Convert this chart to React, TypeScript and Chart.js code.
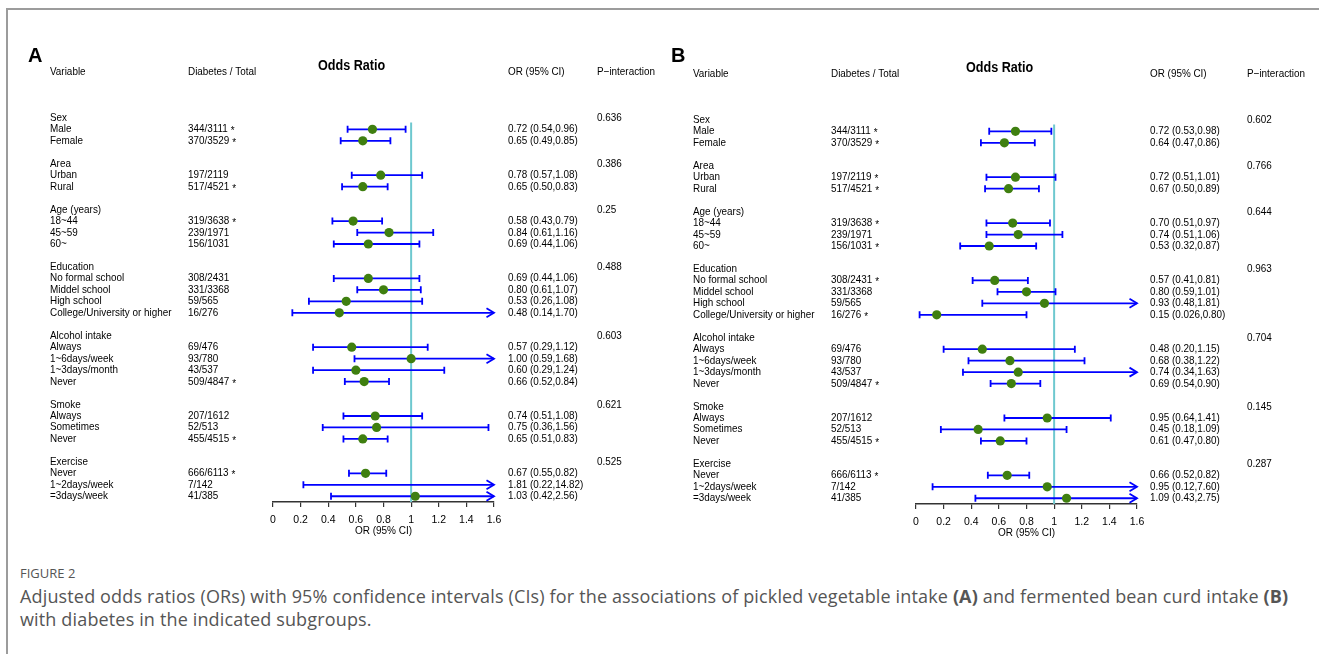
import React, { useEffect, useRef } from "react";
import { Chart, registerables } from "chart.js";
Chart.register(...registerables);

// ---------- data ----------
const groups = ["Sex", "Area", "Age (years)", "Education", "Alcohol intake", "Smoke", "Exercise"];
const subgroups = [
  ["Male", "Female"],
  ["Urban", "Rural"],
  ["18~44", "45~59", "60~"],
  ["No formal school", "Middel school", "High school", "College/University or higher"],
  ["Always", "1~6days/week", "1~3days/month", "Never"],
  ["Always", "Sometimes", "Never"],
  ["Never", "1~2days/week", "=3days/week"],
];
const cases = [
  "344/3111", "370/3529", "197/2119", "517/4521", "319/3638", "239/1971", "156/1031",
  "308/2431", "331/3368", "59/565", "16/276", "69/476", "93/780", "43/537", "509/4847",
  "207/1612", "52/513", "455/4515", "666/6113", "7/142", "41/385",
];

const starsA = [1, 1, 0, 1, 1, 0, 0, 0, 0, 0, 0, 0, 0, 0, 1, 0, 0, 1, 1, 0, 0];
const orA = [0.72, 0.65, 0.78, 0.65, 0.58, 0.84, 0.69, 0.69, 0.80, 0.53, 0.48, 0.57, 1.00, 0.60, 0.66, 0.74, 0.75, 0.65, 0.67, 1.81, 1.03];
const lowA = [0.54, 0.49, 0.57, 0.50, 0.43, 0.61, 0.44, 0.44, 0.61, 0.26, 0.14, 0.29, 0.59, 0.29, 0.52, 0.51, 0.36, 0.51, 0.55, 0.22, 0.42];
const highA = [0.96, 0.85, 1.08, 0.83, 0.79, 1.16, 1.06, 1.06, 1.07, 1.08, 1.70, 1.12, 1.68, 1.24, 0.84, 1.08, 1.56, 0.83, 0.82, 14.82, 2.56];
const pA = ["0.636", "0.386", "0.25", "0.488", "0.603", "0.621", "0.525"];

const starsB = [1, 1, 1, 1, 1, 0, 1, 1, 0, 0, 1, 0, 0, 0, 1, 0, 0, 1, 1, 0, 0];
const orB = [0.72, 0.64, 0.72, 0.67, 0.70, 0.74, 0.53, 0.57, 0.80, 0.93, 0.15, 0.48, 0.68, 0.74, 0.69, 0.95, 0.45, 0.61, 0.66, 0.95, 1.09];
const lowB = [0.53, 0.47, 0.51, 0.50, 0.51, 0.51, 0.32, 0.41, 0.59, 0.48, 0.026, 0.20, 0.38, 0.34, 0.54, 0.64, 0.18, 0.47, 0.52, 0.12, 0.43];
const highB = [0.98, 0.86, 1.01, 0.89, 0.97, 1.06, 0.87, 0.81, 1.01, 1.81, 0.80, 1.15, 1.22, 1.63, 0.90, 1.41, 1.09, 0.80, 0.82, 7.60, 2.75];
const pB = ["0.602", "0.766", "0.644", "0.963", "0.704", "0.145", "0.287"];

const xTicks = [0, 0.2, 0.4, 0.6, 0.8, 1, 1.2, 1.4, 1.6];
const xTickLabels = ["0", "0.2", "0.4", "0.6", "0.8", "1", "1.2", "1.4", "1.6"];
const headers = ["Variable", "Diabetes / Total", "Odds Ratio", "OR (95% CI)", "P\u2212interaction"];

// ---------- styling ----------
const FONT = '"Liberation Sans", Arial, sans-serif';
const GREEN = "#3f7f10";
const BLUE = "#0000ff";
const TEAL = "#6ec8cf";
const X_MIN = 0;
const X_MAX = 1.6;
const SX = 0.9; // horizontal squeeze of the table text

type Row = { kind: "group" | "sub"; label: string; gi: number; idx: number; row: number };
function buildRows(): Row[] {
  const rows: Row[] = [];
  let r = 0;
  let k = 0;
  groups.forEach((g, gi) => {
    rows.push({ kind: "group", label: g, gi, idx: -1, row: r });
    r++;
    subgroups[gi].forEach((s) => {
      rows.push({ kind: "sub", label: s, gi, idx: k, row: r });
      k++;
      r++;
    });
    r++;
  });
  return rows;
}
const ROWS = buildRows();

function fmt(v: number) {
  return v < 0.1 ? v.toFixed(3) : v.toFixed(2);
}

function txt(ctx: CanvasRenderingContext2D, s: string, x: number, y: number) {
  ctx.save();
  ctx.translate(x, y);
  ctx.scale(SX, 1);
  ctx.fillText(s, 0, 0);
  ctx.restore();
  return ctx.measureText(s).width * SX;
}

type PanelCfg = {
  letter: string;
  stars: number[];
  or: number[];
  low: number[];
  high: number[];
  p: string[];
  width: number;
  height: number;
  left: number;
  top: number;
  cols: { variable: number; cases: number; odds: number; ortext: number; p: number };
};

function forestPlugin(cfg: PanelCfg) {
  return {
    id: "forest" + cfg.letter,
    beforeDatasetsDraw(chart: any) {
      const { ctx, chartArea } = chart;
      const xs = chart.scales.x;
      const ys = chart.scales.y;
      ctx.save();
      const x1 = xs.getPixelForValue(1);
      ctx.strokeStyle = TEAL;
      ctx.lineWidth = 2;
      ctx.beginPath();
      ctx.moveTo(x1, ys.getPixelForValue(0.4));
      ctx.lineTo(x1, chartArea.bottom);
      ctx.stroke();
      ctx.strokeStyle = BLUE;
      ctx.lineWidth = 1.8;
      ROWS.filter((r) => r.kind === "sub").forEach((r) => {
        const lo = cfg.low[r.idx];
        const hi = cfg.high[r.idx];
        const y = ys.getPixelForValue(r.row);
        const xl = xs.getPixelForValue(Math.max(lo, X_MIN));
        const xr = xs.getPixelForValue(Math.min(hi, X_MAX));
        ctx.beginPath();
        ctx.moveTo(xl, y);
        ctx.lineTo(xr, y);
        ctx.stroke();
        const cap = 3.5;
        ctx.beginPath();
        if (lo >= X_MIN) {
          ctx.moveTo(xl, y - cap);
          ctx.lineTo(xl, y + cap);
        }
        if (hi <= X_MAX) {
          ctx.moveTo(xr, y - cap);
          ctx.lineTo(xr, y + cap);
        } else {
          ctx.moveTo(xr - 7.5, y - 4.5);
          ctx.lineTo(xr, y);
          ctx.lineTo(xr - 7.5, y + 4.5);
        }
        ctx.stroke();
      });
      ctx.restore();
    },
    afterDraw(chart: any) {
      const { ctx } = chart;
      const ys = chart.scales.y;
      const c = cfg.cols;
      ctx.save();
      ctx.fillStyle = "#000";
      ctx.font = `bold 20px ${FONT}`;
      ctx.textBaseline = "alphabetic";
      ctx.textAlign = "left";
      ctx.fillText(cfg.letter, 28, 62 - cfg.top);
      ctx.textBaseline = "middle";
      ctx.font = `11px ${FONT}`;
      const yh = ys.getPixelForValue(-4);
      txt(ctx, headers[0], c.variable, yh);
      txt(ctx, headers[1], c.cases, yh);
      txt(ctx, headers[3], c.ortext, yh);
      txt(ctx, headers[4], c.p, yh);
      ctx.font = `bold 14px ${FONT}`;
      txt(ctx, headers[2], c.odds, ys.getPixelForValue(-4.5));
      ROWS.forEach((r) => {
        const y = ys.getPixelForValue(r.row);
        ctx.font = `11px ${FONT}`;
        txt(ctx, r.label, c.variable, y);
        if (r.kind === "group") {
          txt(ctx, cfg.p[r.gi], c.p, y);
        } else {
          const s = cases[r.idx];
          const w = txt(ctx, s, c.cases, y);
          if (cfg.stars[r.idx]) {
            ctx.font = `11px ${FONT}`;
            txt(ctx, "*", c.cases + w + 3, y + 2);
            ctx.font = `11px ${FONT}`;
          }
          const t = `${fmt(cfg.or[r.idx])} (${fmt(cfg.low[r.idx])},${fmt(cfg.high[r.idx])})`;
          txt(ctx, t, c.ortext, y);
        }
      });
      ctx.restore();
    },
  };
}

function Panel({ cfg }: { cfg: PanelCfg }) {
  const ref = useRef<HTMLCanvasElement | null>(null);
  useEffect(() => {
    if (!ref.current) return;
    const points = ROWS.filter((r) => r.kind === "sub").map((r) => ({ x: cfg.or[r.idx], y: r.row }));
    const chart = new Chart(ref.current, {
      type: "scatter",
      data: {
        datasets: [
          {
            data: points,
            pointRadius: 4.6,
            pointHoverRadius: 4.6,
            backgroundColor: GREEN,
            borderWidth: 0,
          },
        ],
      },
      options: {
        responsive: false,
        animation: false,
        devicePixelRatio: 1,
        events: [],
        layout: { padding: { left: 273, right: cfg.width - 494, top: 72, bottom: 23 } },
        plugins: { legend: { display: false }, tooltip: { enabled: false } },
        scales: {
          x: {
            type: "linear",
            position: "bottom",
            min: X_MIN,
            max: X_MAX,
            afterBuildTicks: (s: any) => {
              s.ticks = xTicks.map((v) => ({ value: v }));
            },
            afterFit: (s: any) => {
              s.height = 35;
            },
            ticks: {
              callback: (_v: any, i: number) => xTickLabels[i],
              font: { family: FONT, size: 10.5, lineHeight: 1 },
              color: "#000",
              padding: 8,
              maxRotation: 0,
              autoSkip: false,
            },
            grid: { drawOnChartArea: false, drawTicks: true, tickLength: 5, color: "#333", lineWidth: 1.2 },
            border: { display: true, color: "#333", width: 1.5 },
            title: {
              display: true,
              text: "OR (95% CI)",
              color: "#000",
              font: { family: FONT, size: 10, lineHeight: 1.2 },
              padding: { top: 0, bottom: 0 },
            },
          },
          y: { type: "linear", display: false, reverse: true, min: -4, max: 33.5 },
        },
      },
      plugins: [forestPlugin(cfg)],
    } as any);
    return () => chart.destroy();
  }, [cfg]);
  return (
    <canvas
      ref={ref}
      width={cfg.width}
      height={cfg.height}
      style={{ position: "absolute", left: cfg.left, top: cfg.top, width: cfg.width, height: cfg.height }}
    />
  );
}

const cfgA: PanelCfg = {
  letter: "A",
  stars: starsA,
  or: orA,
  low: lowA,
  high: highA,
  p: pA,
  width: 660,
  height: 560,
  left: 0,
  top: 0,
  cols: { variable: 50, cases: 188, odds: 318, ortext: 508, p: 597 },
};
const cfgB: PanelCfg = {
  letter: "B",
  stars: starsB,
  or: orB,
  low: lowB,
  high: highB,
  p: pB,
  width: 676,
  height: 560,
  left: 643,
  top: 2,
  cols: { variable: 50, cases: 188, odds: 323, ortext: 507, p: 604 },
};

export default function App() {
  return (
    <div style={{ position: "absolute", left: 0, top: 0, width: 1319, height: 654, overflow: "hidden", background: "#fff" }}>
      <div
        style={{
          position: "absolute",
          left: 6,
          top: 8,
          width: 1500,
          height: 800,
          borderTop: "2px solid #9c9c9c",
          borderLeft: "2px solid #9c9c9c",
        }}
      />
      <Panel cfg={cfgA} />
      <Panel cfg={cfgB} />
      <div
        style={{
          position: "absolute",
          left: 20,
          top: 564,
          fontFamily: '"Open Sans", sans-serif',
          fontSize: 13,
          lineHeight: "18px",
          color: "#555",
          whiteSpace: "nowrap",
        }}
      >
        FIGURE 2
      </div>
      <div
        style={{
          position: "absolute",
          left: 20,
          top: 585,
          fontFamily: '"Open Sans", sans-serif',
          fontSize: 18,
          letterSpacing: "0.15px",
          lineHeight: "23px",
          color: "#555",
          whiteSpace: "nowrap",
        }}
      >
        Adjusted odds ratios (ORs) with 95% confidence intervals (CIs) for the associations of pickled vegetable intake{" "}
        <b>(A)</b> and fermented bean curd intake <b>(B)</b>
        <br />
        with diabetes in the indicated subgroups.
      </div>
    </div>
  );
}
